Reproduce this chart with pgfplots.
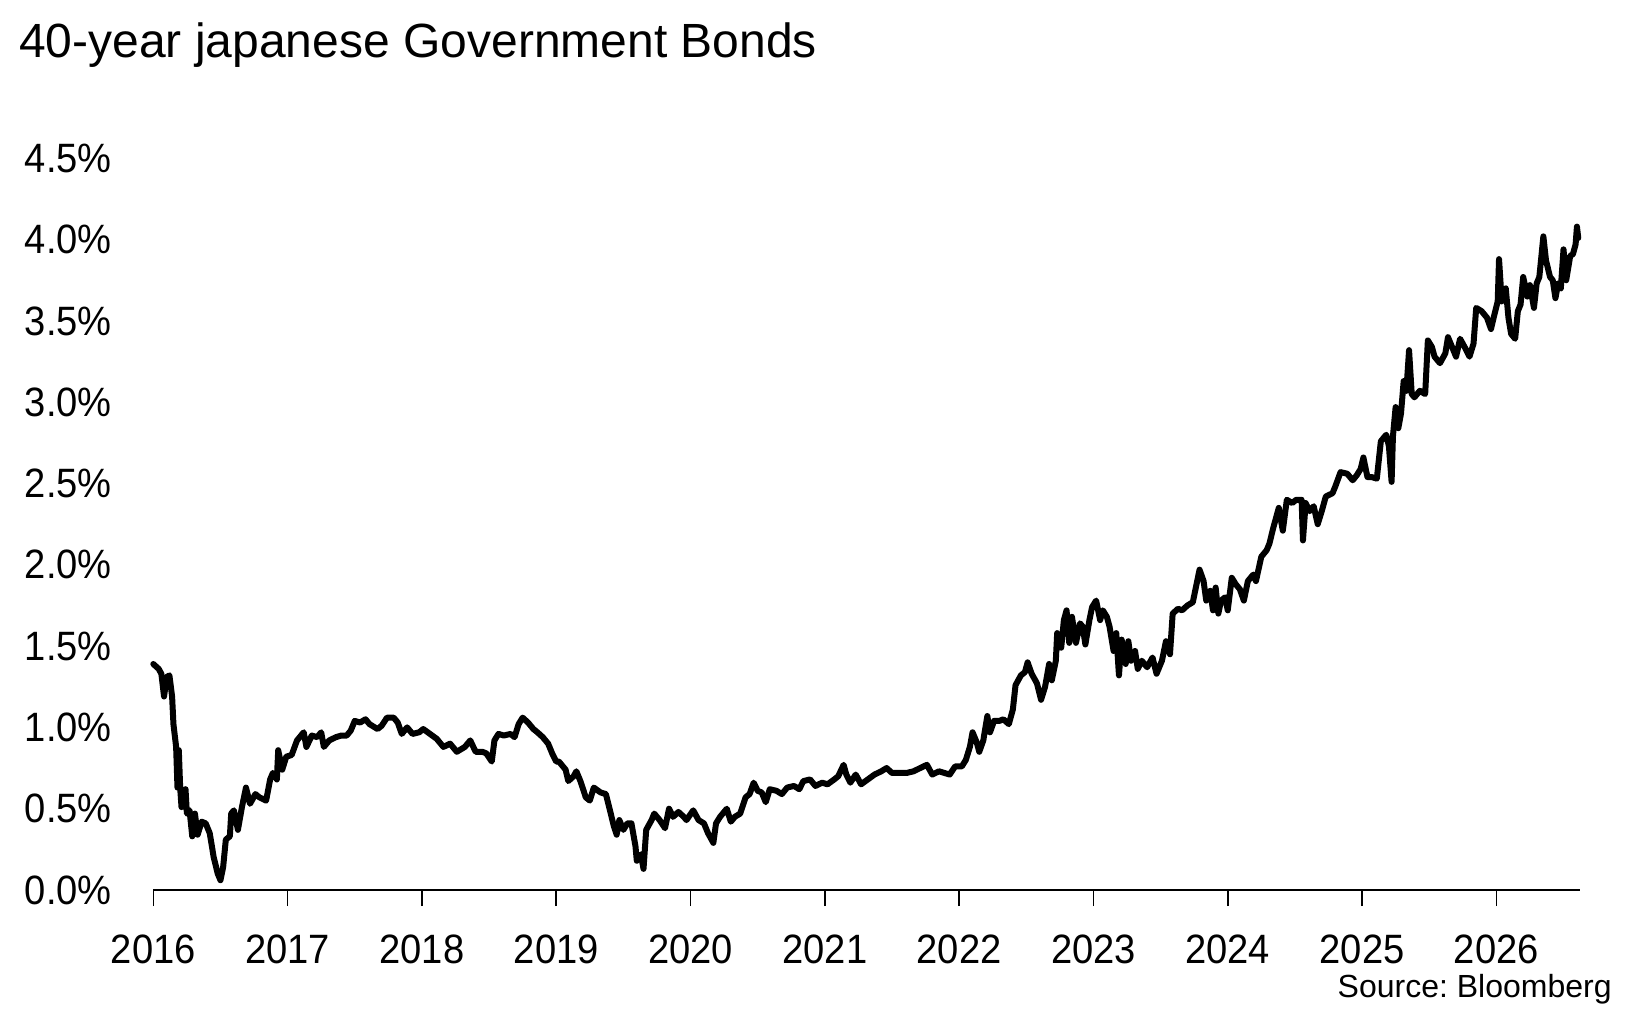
\documentclass[border=0pt]{standalone}
\usepackage{pgfplots}
\pgfplotsset{compat=1.18}
\usepackage{fontspec}
\setmainfont{Liberation Sans}
\newfontfamily\narrowfont{Liberation Sans}[FakeStretch=0.93]
\frenchspacing

\begin{document}
\begin{tikzpicture}
\begin{axis}[
  at={(76.65pt,59pt)}, anchor=south west,
  scale only axis, width=713.15pt, height=365.85pt,
  xmin=2016, xmax=2026.62, ymin=0, ymax=4.5,
  clip=false,
  axis x line=bottom, axis y line=left,
  x axis line style={-, line width=1.3pt, black},
  y axis line style={draw=none},
  xtick={2016,2017,2018,2019,2020,2021,2022,2023,2024,2025,2026},
  xticklabels={2016,2017,2018,2019,2020,2021,2022,2023,2024,2025,2026},
  ytick={0,0.5,1,1.5,2,2.5,3,3.5,4,4.5},
  yticklabels={0.0\%,0.5\%,1.0\%,1.5\%,2.0\%,2.5\%,3.0\%,3.5\%,4.0\%,4.5\%},
  tick align=outside,
  major tick length=8pt,
  x tick style={line width=0.8pt, black},
  y tick style={draw=none},
  xticklabel style={font=\narrowfont\fontsize{20.5}{20.5}\selectfont, anchor=north, inner sep=0pt, yshift=-14pt},
  yticklabel style={font=\narrowfont\fontsize{20.5}{20.5}\selectfont, anchor=east, inner sep=0pt, xshift=-12.6pt},
]
\addplot[black, line width=3pt, line join=round, line cap=round, no markers] coordinates {
(2016.00,1.39)(2016.04,1.36)(2016.06,1.33)(2016.08,1.19)(2016.10,1.31)(2016.12,1.32)(2016.14,1.19)(2016.15,1.02)(2016.17,0.88)(2016.18,0.63)(2016.19,0.86)(2016.20,0.63)(2016.21,0.51)(2016.24,0.62)(2016.25,0.47)(2016.27,0.49)(2016.29,0.33)(2016.31,0.47)(2016.33,0.34)(2016.36,0.42)(2016.39,0.41)(2016.42,0.35)(2016.45,0.20)(2016.48,0.10)(2016.50,0.06)(2016.52,0.14)(2016.54,0.31)(2016.57,0.33)(2016.58,0.47)(2016.60,0.49)(2016.63,0.37)(2016.66,0.51)(2016.69,0.63)(2016.72,0.53)(2016.76,0.59)(2016.79,0.57)(2016.84,0.55)(2016.87,0.68)(2016.89,0.72)(2016.92,0.68)(2016.93,0.86)(2016.96,0.74)(2016.99,0.82)(2017.03,0.83)(2017.07,0.92)(2017.12,0.97)(2017.14,0.88)(2017.18,0.95)(2017.22,0.94)(2017.25,0.97)(2017.27,0.88)(2017.31,0.92)(2017.36,0.94)(2017.40,0.95)(2017.44,0.95)(2017.47,0.98)(2017.50,1.04)(2017.54,1.03)(2017.58,1.05)(2017.61,1.02)(2017.67,0.99)(2017.70,1.01)(2017.74,1.06)(2017.79,1.06)(2017.82,1.03)(2017.85,0.96)(2017.89,1.00)(2017.93,0.96)(2017.98,0.97)(2018.01,0.99)(2018.06,0.96)(2018.11,0.93)(2018.16,0.88)(2018.21,0.90)(2018.26,0.85)(2018.30,0.87)(2018.32,0.88)(2018.36,0.92)(2018.40,0.85)(2018.45,0.85)(2018.48,0.84)(2018.52,0.79)(2018.54,0.92)(2018.57,0.96)(2018.61,0.95)(2018.66,0.96)(2018.69,0.94)(2018.72,1.02)(2018.75,1.06)(2018.79,1.03)(2018.83,0.99)(2018.86,0.97)(2018.90,0.94)(2018.94,0.90)(2018.97,0.84)(2019.00,0.79)
(2019.02,0.79)(2019.07,0.74)(2019.09,0.67)(2019.13,0.70)(2019.15,0.73)(2019.18,0.67)(2019.22,0.57)(2019.25,0.55)(2019.28,0.63)(2019.33,0.60)(2019.37,0.59)(2019.40,0.49)(2019.43,0.39)(2019.45,0.34)(2019.47,0.43)(2019.50,0.37)(2019.53,0.41)(2019.56,0.41)(2019.59,0.27)(2019.60,0.18)(2019.63,0.22)(2019.65,0.13)(2019.67,0.37)(2019.71,0.43)(2019.73,0.47)(2019.77,0.43)(2019.81,0.38)(2019.84,0.50)(2019.87,0.45)(2019.91,0.48)(2019.95,0.45)(2019.97,0.43)(2020.02,0.49)(2020.06,0.43)(2020.10,0.41)(2020.13,0.35)(2020.17,0.29)(2020.19,0.41)(2020.22,0.45)(2020.27,0.50)(2020.30,0.42)(2020.33,0.45)(2020.37,0.47)(2020.41,0.57)(2020.44,0.59)(2020.47,0.66)(2020.50,0.61)(2020.53,0.60)(2020.56,0.54)(2020.59,0.62)(2020.64,0.61)(2020.68,0.59)(2020.72,0.63)(2020.77,0.64)(2020.81,0.62)(2020.84,0.67)(2020.89,0.68)(2020.93,0.64)(2020.98,0.66)(2021.02,0.65)(2021.07,0.68)(2021.10,0.70)(2021.14,0.77)(2021.16,0.71)(2021.19,0.66)(2021.23,0.71)(2021.27,0.65)(2021.32,0.68)(2021.37,0.71)(2021.42,0.73)(2021.46,0.75)(2021.50,0.72)(2021.56,0.72)(2021.61,0.72)(2021.66,0.73)(2021.71,0.75)(2021.76,0.77)(2021.80,0.71)(2021.85,0.73)
(2021.89,0.72)(2021.93,0.71)(2021.97,0.76)(2022.02,0.76)(2022.05,0.80)(2022.08,0.88)(2022.10,0.97)(2022.13,0.91)(2022.15,0.85)(2022.18,0.92)(2022.21,1.07)(2022.23,0.97)(2022.26,1.04)(2022.30,1.04)(2022.33,1.05)(2022.37,1.02)(2022.40,1.11)(2022.42,1.26)(2022.46,1.32)(2022.49,1.34)(2022.51,1.40)(2022.54,1.33)(2022.58,1.27)(2022.61,1.17)(2022.64,1.25)(2022.67,1.39)(2022.69,1.29)(2022.72,1.41)(2022.73,1.58)(2022.76,1.49)(2022.78,1.66)(2022.80,1.72)(2022.82,1.52)(2022.84,1.68)(2022.87,1.52)(2022.90,1.64)(2022.92,1.62)(2022.94,1.51)(2022.97,1.66)(2022.99,1.74)(2023.02,1.78)(2023.05,1.66)(2023.07,1.72)(2023.10,1.68)(2023.12,1.62)(2023.15,1.47)(2023.17,1.58)(2023.19,1.32)(2023.21,1.54)(2023.24,1.39)(2023.26,1.53)(2023.28,1.41)(2023.31,1.47)(2023.33,1.36)(2023.36,1.41)(2023.40,1.37)(2023.44,1.43)(2023.47,1.33)(2023.51,1.41)(2023.54,1.53)(2023.57,1.45)(2023.59,1.70)(2023.63,1.73)(2023.66,1.72)(2023.70,1.75)(2023.74,1.77)(2023.76,1.85)
(2023.79,1.97)(2023.82,1.90)(2023.84,1.78)(2023.87,1.84)(2023.89,1.72)(2023.91,1.86)(2023.93,1.70)(2023.95,1.78)(2023.98,1.80)(2024.00,1.72)(2024.03,1.92)(2024.06,1.88)(2024.09,1.85)(2024.12,1.78)(2024.15,1.90)(2024.19,1.94)(2024.21,1.90)(2024.25,2.05)(2024.29,2.09)(2024.31,2.13)(2024.34,2.23)(2024.38,2.35)(2024.41,2.21)(2024.44,2.40)(2024.48,2.38)(2024.51,2.40)(2024.55,2.40)(2024.56,2.15)(2024.58,2.38)(2024.61,2.33)(2024.64,2.36)(2024.67,2.25)(2024.70,2.33)(2024.73,2.42)(2024.78,2.44)(2024.80,2.48)(2024.84,2.57)(2024.89,2.56)(2024.93,2.52)(2024.96,2.55)(2024.99,2.59)(2025.01,2.66)(2025.04,2.54)(2025.07,2.54)(2025.11,2.53)(2025.14,2.76)(2025.18,2.80)(2025.20,2.73)(2025.22,2.51)(2025.23,2.79)(2025.25,2.97)(2025.27,2.84)(2025.29,2.93)(2025.31,3.13)(2025.33,3.07)(2025.35,3.32)(2025.37,3.05)(2025.39,3.03)(2025.43,3.07)(2025.47,3.05)(2025.49,3.38)(2025.52,3.34)(2025.54,3.28)(2025.58,3.24)(2025.62,3.30)(2025.64,3.40)(2025.68,3.32)(2025.70,3.28)(2025.73,3.39)(2025.77,3.33)(2025.80,3.28)(2025.83,3.36)(2025.85,3.58)(2025.89,3.56)(2025.93,3.52)(2025.96,3.45)(2025.98,3.52)(2026.01,3.62)(2026.02,3.88)(2026.04,3.62)(2026.07,3.70)(2026.09,3.52)(2026.11,3.42)(2026.14,3.39)(2026.16,3.56)(2026.18,3.60)(2026.20,3.77)(2026.23,3.65)(2026.25,3.72)(2026.28,3.58)(2026.30,3.73)(2026.32,3.77)(2026.35,4.02)(2026.37,3.87)(2026.40,3.77)(2026.42,3.75)(2026.44,3.64)(2026.46,3.73)(2026.48,3.70)(2026.50,3.94)(2026.52,3.75)(2026.55,3.90)(2026.57,3.91)(2026.59,3.97)(2026.60,4.08)(2026.61,4.01)
};
\end{axis}
\node[anchor=base west, inner sep=0pt, font=\fontsize{24}{24}\selectfont] at (9.4pt,475.2pt) {40-year japanese Government Bonds};
\node[anchor=base east, inner sep=0pt, font=\fontsize{16}{16}\selectfont] at (806pt,5.5pt) {Source: Bloomberg};
\pgfresetboundingbox
\path[use as bounding box] (0pt,0pt) rectangle (818pt,504pt);
\end{tikzpicture}
\end{document}
